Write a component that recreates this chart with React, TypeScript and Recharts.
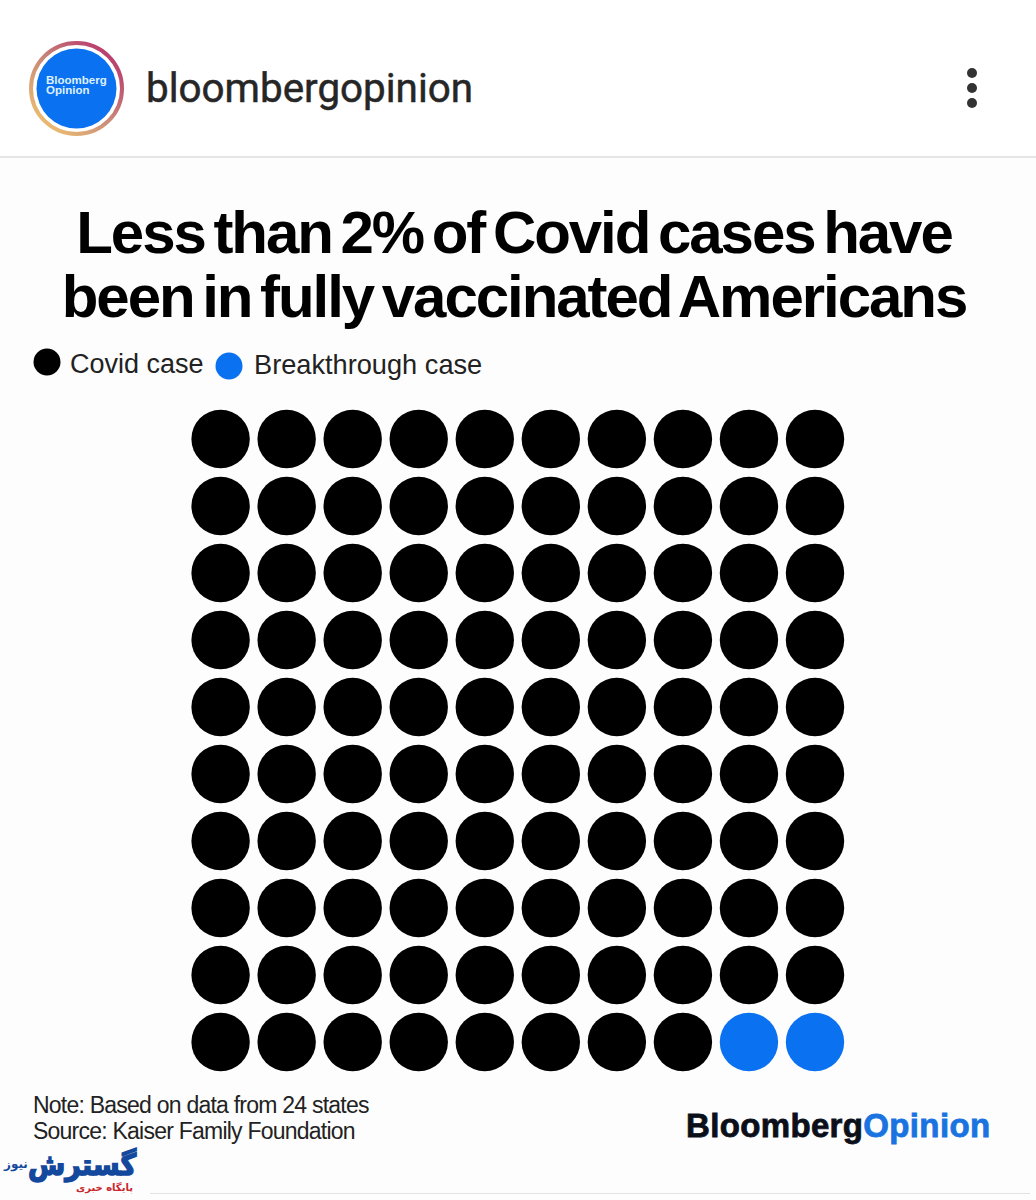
import React from 'react';
import { ScatterChart, Scatter, XAxis, YAxis } from 'recharts';

// One row per list entry, rows counted from the bottom of the grid
const rowNumbers = [1, 2, 3, 4, 5, 6, 7, 8, 9, 10];
const covidPerRow = [8, 10, 10, 10, 10, 10, 10, 10, 10, 10];
const breakthroughPerRow = [2, 0, 0, 0, 0, 0, 0, 0, 0, 0];

const titleLines = ['Less than 2% of Covid cases have', 'been in fully vaccinated Americans'];
const noteLines = ['Note: Based on data from 24 states', 'Source: Kaiser Family Foundation'];

const BLUE = '#0a72f0';
const sans = '"Liberation Sans", Arial, sans-serif';

const covidPoints = rowNumbers.flatMap((row, i) =>
  Array.from({ length: covidPerRow[i] }, (_, c) => ({ col: c + 1, row }))
);
const breakthroughPoints = rowNumbers.flatMap((row, i) =>
  Array.from({ length: breakthroughPerRow[i] }, (_, c) => ({ col: covidPerRow[i] + c + 1, row }))
);

const place = (left: number, top: number): React.CSSProperties => ({
  position: 'absolute',
  left,
  top,
  whiteSpace: 'nowrap',
});

const Dot = (props: any) => <circle cx={props.cx} cy={props.cy} r={29.2} fill={props.fill} />;

const Header = () => (
  <>
    <svg width={110} height={110} style={place(22, 34)}>
      <defs>
        <linearGradient id="ring" x1="0.9" y1="0.1" x2="0.2" y2="0.9">
          <stop offset="0%" stopColor="#b8386e" />
          <stop offset="55%" stopColor="#c98a78" />
          <stop offset="100%" stopColor="#e8b873" />
        </linearGradient>
      </defs>
      <circle cx={54.5} cy={54.5} r={45.5} fill="none" stroke="url(#ring)" strokeWidth={4} />
      <circle cx={54.5} cy={54.5} r={40} fill={BLUE} />
      <text x={24} y={50} fontFamily={sans} fontWeight={700} fontSize={11.5} fill="#dff0ff">Bloomberg</text>
      <text x={24} y={60} fontFamily={sans} fontWeight={700} fontSize={11.5} fill="#dff0ff">Opinion</text>
    </svg>
    <div style={{ ...place(146, 65), fontFamily: 'Roboto', fontSize: 40.4, lineHeight: '48px', color: '#262626', WebkitTextStroke: '0.5px currentColor' }}>
      bloombergopinion
    </div>
    <svg width={20} height={50} style={place(962, 63)}>
      <circle cx={10} cy={10} r={5} fill="#333" />
      <circle cx={10} cy={25} r={5} fill="#333" />
      <circle cx={10} cy={40} r={5} fill="#333" />
    </svg>
    <div style={{ position: 'absolute', left: 0, top: 156, width: 1036, height: 2, background: '#e6e6e6' }} />
  </>
);

const Title = () => (
  <div style={{ position: 'absolute', left: 0, top: 201, width: 1028, textAlign: 'center', fontFamily: sans, fontWeight: 700, fontSize: 60, lineHeight: '64px', letterSpacing: -2.05, wordSpacing: -6, color: '#000' }}>
    {titleLines.map((line) => (
      <div key={line}>{line}</div>
    ))}
  </div>
);

const LegendRow = () => (
  <>
    <svg width={30} height={30} style={place(32, 347)}>
      <circle cx={15} cy={15} r={13.5} fill="#000" />
    </svg>
    <div style={{ ...place(70, 349), fontFamily: sans, fontSize: 27, lineHeight: '30px', color: '#222' }}>Covid case</div>
    <svg width={30} height={30} style={place(214, 351)}>
      <circle cx={15} cy={15} r={13.5} fill={BLUE} />
    </svg>
    <div style={{ ...place(254, 350), fontFamily: sans, fontSize: 27.2, lineHeight: '30px', color: '#222' }}>Breakthrough case</div>
  </>
);

const Footer = () => (
  <>
    <div style={{ ...place(33, 1092), fontFamily: sans, fontSize: 23, lineHeight: '26px', letterSpacing: -0.77, color: '#222' }}>
      {noteLines.map((line) => (
        <div key={line}>{line}</div>
      ))}
    </div>
    <div style={{ ...place(686, 1106), fontFamily: sans, fontWeight: 700, fontSize: 33, lineHeight: '40px', letterSpacing: 0.35, color: '#0b0f1a', WebkitTextStroke: '0.8px currentColor' }}>
      Bloomberg<span style={{ color: '#1a73e0' }}>Opinion</span>
    </div>
    <div dir="rtl" style={{ ...place(28, 1146), fontFamily: '"DejaVu Sans"', fontWeight: 700, fontSize: 27, lineHeight: '33px', color: '#14489c', WebkitTextStroke: '1.4px currentColor', transform: 'scaleY(1.1)', transformOrigin: 'top' }}>
      گسترش
    </div>
    <div dir="rtl" style={{ ...place(4, 1156), fontFamily: '"DejaVu Sans"', fontWeight: 700, fontSize: 12, lineHeight: '16px', color: '#14489c' }}>
      نیوز
    </div>
    <div dir="rtl" style={{ ...place(76, 1182), fontFamily: '"DejaVu Sans"', fontWeight: 700, fontSize: 10, lineHeight: '12px', letterSpacing: 0.5, color: '#c8252c' }}>
      پایگاه خبری
    </div>
    <div style={{ position: 'absolute', left: 150, top: 1193, width: 880, height: 1, background: '#e2e2e2' }} />
  </>
);

export default function App() {
  return (
    <div style={{ position: 'absolute', left: 0, top: 0, width: 1036, height: 1200, background: '#fdfdfd', overflow: 'hidden' }}>
      <div style={{ position: 'absolute', left: 0, top: 0, width: 1036, height: 156, background: '#fff' }} />
      <ScatterChart
        width={1036}
        height={1200}
        margin={{ top: 439, right: 221, bottom: 158, left: 220.6 }}
        style={{ position: 'absolute', left: 0, top: 0 }}
      >
        <XAxis type="number" dataKey="col" domain={[1, 10]} hide />
        <YAxis type="number" dataKey="row" domain={[1, 10]} hide />
        <Scatter name="Covid case" data={covidPoints} fill="#000" shape={Dot} isAnimationActive={false} />
        <Scatter name="Breakthrough case" data={breakthroughPoints} fill={BLUE} shape={Dot} isAnimationActive={false} />
      </ScatterChart>
      <Header />
      <Title />
      <LegendRow />
      <Footer />
    </div>
  );
}
